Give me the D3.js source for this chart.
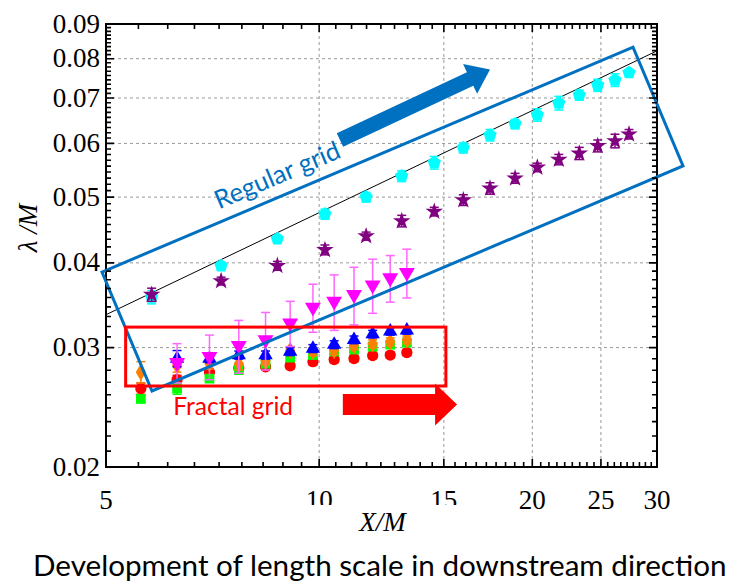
<!DOCTYPE html>
<html>
<meta charset="utf-8">
<title>Length scale development</title>
<style>
    body { margin: 0; background: #fff; }
    .lbl { font-family: "Liberation Serif", "Times New Roman", serif; font-size: 27px; fill: #000; }
    .grid line { stroke: #999; stroke-width: 1px; stroke-dasharray: 3, 3; }
    .title { font-family: "Liberation Serif", "Times New Roman", serif; font-style: italic; font-size: 27px; }
    .note { font-family: Lato, "Noto Sans", sans-serif; }
</style>
<script src="https://d3js.org/d3.v7.min.js" charset="utf-8"></script>
<body>
<script>
    // ---- data ----
    // regular grid (two series share the same X/M stations)
    const regX = [5.8, 7.27, 8.73, 10.19, 11.65, 13.08, 14.54, 15.98, 17.43, 18.91, 20.33, 21.8, 23.3, 24.74, 26.17, 27.39]
    const cyanY = [0.0356, 0.0396, 0.0434, 0.0472, 0.0500, 0.0537, 0.0562, 0.0591, 0.0617, 0.0641, 0.0661, 0.0688, 0.0707, 0.0731, 0.0744, 0.0763]
    const cyanErr = [0.0008, 0.0005, 0.0005, 0.0008, 0.0008, 0.0010, 0.0012, 0.0010, 0.0012, 0.0010, 0.0014, 0.0016, 0.0012, 0.0015, 0.0016, 0.0008]
    const purpleY = [0.0359, 0.0376, 0.0396, 0.0418, 0.0438, 0.0461, 0.0476, 0.0495, 0.0515, 0.0533, 0.0553, 0.0568, 0.0580, 0.0595, 0.0605, 0.0619]
    const purpleErr = [0.0008, 0.0005, 0.0006, 0.0007, 0.0006, 0.0009, 0.0007, 0.0009, 0.0010, 0.0009, 0.0008, 0.0010, 0.0012, 0.0012, 0.0014, 0.0010]

    // fractal grids
    const fracX = [5.6, 6.3, 7.0, 7.7, 8.4, 9.1, 9.8, 10.5, 11.2, 11.9, 12.6, 13.3]
    const redY = [0.0261, 0.0269, 0.0276, 0.0280, 0.0281, 0.0282, 0.0286, 0.0288, 0.0289, 0.0292, 0.02925, 0.0295]
    const redErr = [0.0005, 0.0004, 0.0003, 0.0003, 0.0003, 0.0003, 0.0003, 0.0003, 0.0003, 0.0003, 0.0003, 0.0003]
    const greenY = [0.0252, 0.0261, 0.0270, 0.0278, 0.0284, 0.0290, 0.02925, 0.0296, 0.0298, 0.0301, 0.0303, 0.0305]
    const greenErr = [0.0003, 0.0005, 0.0003, 0.0004, 0.0003, 0.0003, 0.0003, 0.0003, 0.0003, 0.0003, 0.0003, 0.0003]
    const orangeY = [0.0276, 0.0282, 0.0284, 0.0284, 0.0287, 0.0297, 0.0296, 0.0297, 0.0302, 0.0304, 0.0306, 0.0308]
    const orangeErr = [0.0010, 0.0006, 0.0005, 0.0006, 0.0004, 0.0004, 0.0004, 0.0004, 0.0004, 0.0004, 0.0004, 0.0004]
    const blueY = [null, 0.0289, 0.0289, 0.02925, 0.02925, 0.0296, 0.0299, 0.0303, 0.0308, 0.0314, 0.0317, 0.0318]
    const blueErr = [null, 0.0008, 0.0004, 0.0004, 0.0004, 0.0004, 0.0004, 0.0004, 0.0004, 0.0004, 0.0004, 0.0004]
    const magentaY = [null, 0.0285, 0.0291, 0.0302, 0.0308, 0.0326, 0.0344, 0.0351, 0.0359, 0.0371, 0.0380, 0.0387]
    const magentaErr = [null, 0.0019, 0.0022, 0.0027, 0.0030, 0.0025, 0.0028, 0.0033, 0.0035, 0.0034, 0.0030, 0.0032]

    // power-law guide line  lambda/M = c * (X/M)^p
    const fitC = 0.015
    const fitP = 0.5

    // axes
    const xDomain = [5, 30]
    const yDomain = [0.02, 0.09]
    const xTicks = [5, 10, 15, 20, 25, 30]
    const yTicks = [0.02, 0.03, 0.04, 0.05, 0.06, 0.07, 0.08, 0.09]
    const xGrid = [10, 15, 20, 25]
    const yGrid = [0.03, 0.04, 0.05, 0.06, 0.07, 0.08]

    const caption = "Development of length scale in downstream direction"

    // ---- layout ----
    const W = 740, H = 583
    const m = { left: 106, top: 24, right: 657, bottom: 467 }

    const svg = d3.select("body").append("svg").attr("width", W).attr("height", H)

    const x = d3.scaleLog().domain(xDomain).range([m.left, m.right])
    const y = d3.scaleLog().domain(yDomain).range([m.bottom, m.top])

    // minor ticks: 8 per major interval (that is how the original axis was drawn)
    function minors(majors) {
        let out = []
        for (let i = 0; i < majors.length - 1; i++) {
            let a = majors[i], b = majors[i + 1]
            for (let k = 1; k < 9; k++) out.push(a + (b - a) * k / 9)
        }
        return out
    }

    // grid
    svg.append("g").attr("class", "grid")
        .selectAll("line").data(xGrid).enter().append("line")
        .attr("x1", d => x(d)).attr("x2", d => x(d))
        .attr("y1", m.top).attr("y2", m.bottom)
    svg.append("g").attr("class", "grid")
        .selectAll("line").data(yGrid).enter().append("line")
        .attr("x1", m.left).attr("x2", m.right)
        .attr("y1", d => y(d)).attr("y2", d => y(d))

    // tick labels
    svg.append("g").selectAll("text").data(xTicks).enter().append("text")
        .attr("class", "lbl").attr("text-anchor", "middle")
        .attr("x", d => x(d)).attr("y", m.bottom + 42)
        .text(d => d)
    svg.append("g").selectAll("text").data(yTicks).enter().append("text")
        .attr("class", "lbl").attr("text-anchor", "end")
        .attr("x", m.left - 6).attr("y", d => y(d)).attr("dy", "0.32em")
        .text(d => d3.format(".2f")(d))

    // the original export clipped the lower edge of the "10" and "15" labels
    svg.append("rect")
        .attr("x", x(10) - 20).attr("width", x(15) - x(10) + 40)
        .attr("y", m.bottom + 38).attr("height", 6)
        .attr("fill", "#fff")

    // frame
    svg.append("rect")
        .attr("x", m.left).attr("y", m.top)
        .attr("width", m.right - m.left).attr("height", m.bottom - m.top)
        .attr("fill", "none").attr("stroke", "#000").attr("stroke-width", 2)

    // axis titles
    svg.append("text").attr("class", "title")
        .attr("transform", `translate(37,228) rotate(-90)`)
        .attr("text-anchor", "middle")
        .text("\u03bb /M")
    svg.append("text").attr("class", "title")
        .attr("x", (m.left + m.right) / 2 + 1).attr("y", 531)
        .attr("text-anchor", "middle")
        .text("X/M")

    // guide line
    let line = d3.line().x(d => x(d)).y(d => y(fitC * Math.pow(d, fitP)))
    svg.append("path")
        .datum(xDomain)
        .attr("d", line)
        .attr("fill", "none").attr("stroke", "#000").attr("stroke-width", 1)

    // ---- markers ----
    function pentagon(r) {
        let p = d3.path()
        for (let i = 0; i < 5; i++) {
            let a = -Math.PI / 2 + i * 2 * Math.PI / 5
            if (i == 0) p.moveTo(r * Math.cos(a), r * Math.sin(a))
            else p.lineTo(r * Math.cos(a), r * Math.sin(a))
        }
        p.closePath()
        return p.toString()
    }

    function series(xs, ys, errs, opt) {
        let pts = xs.map((d, i) => ({ x: d, y: ys[i], e: errs[i] })).filter(d => d.y != null)
        let g = svg.append("g")
        // error bars
        let eb = g.selectAll(".eb").data(pts).enter().append("g")
            .attr("stroke", opt.err || opt.color).attr("stroke-width", 1.5)
        eb.append("line")
            .attr("x1", d => x(d.x)).attr("x2", d => x(d.x))
            .attr("y1", d => y(d.y - d.e)).attr("y2", d => y(d.y + d.e))
        eb.append("line")
            .attr("x1", d => x(d.x) - 4.5).attr("x2", d => x(d.x) + 4.5)
            .attr("y1", d => y(d.y + d.e)).attr("y2", d => y(d.y + d.e))
        eb.append("line")
            .attr("x1", d => x(d.x) - 4.5).attr("x2", d => x(d.x) + 4.5)
            .attr("y1", d => y(d.y - d.e)).attr("y2", d => y(d.y - d.e))
        // symbols
        g.selectAll(".pt").data(pts).enter().append("path")
            .attr("d", opt.path)
            .attr("transform", d => `translate(${x(d.x)},${y(d.y)})` + (opt.rot ? ` rotate(${opt.rot})` : ""))
            .attr("fill", opt.color)
    }

    series(regX, cyanY, cyanErr, { color: "#00ffff", path: pentagon(7) })
    series(regX, purpleY, purpleErr, { color: "#800080", path: d3.symbol(d3.symbolStar, 95)() })
    series(fracX, redY, redErr, { color: "#ff0000", path: d3.symbol(d3.symbolCircle, 100)() })
    series(fracX, greenY, greenErr, { color: "#00ff00", path: d3.symbol(d3.symbolSquare, 95)() })
    series(fracX, orangeY, orangeErr, { color: "#ff8000", path: d3.symbol(d3.symbolDiamond, 90)() })
    series(fracX, blueY, blueErr, { color: "#0000ff", path: d3.symbol(d3.symbolTriangle, 90)() })
    series(fracX, magentaY, magentaErr, { color: "#ff00ff", err: "#ff66ff", path: d3.symbol(d3.symbolTriangle, 110)(), rot: 180 })

    // ---- annotations (anchored in data space) ----
    const blueNote = "#0070c0", redNote = "#ff0000"
    let P = d => [x(d[0]), y(d[1])]

    // tilted box round the regular-grid data
    let box = [[4.935, 0.03877], [27.75, 0.0832], [32.65, 0.0556], [5.807, 0.02589]]
    svg.append("path")
        .attr("d", "M" + box.map(P).join("L") + "Z")
        .attr("fill", "none").attr("stroke", blueNote).attr("stroke-width", 3)

    // box round the fractal-grid data
    let fb = [[5.33, 0.03216], [15.1, 0.02633]]
    svg.append("rect")
        .attr("x", x(fb[0][0])).attr("y", y(fb[0][1]))
        .attr("width", x(fb[1][0]) - x(fb[0][0])).attr("height", y(fb[1][1]) - y(fb[0][1]))
        .attr("fill", "none").attr("stroke", redNote).attr("stroke-width", 3)

    function arrow(from, to, body, head, headLen, color) {
        let a = P(from), b = P(to)
        let len = Math.hypot(b[0] - a[0], b[1] - a[1])
        let ang = Math.atan2(b[1] - a[1], b[0] - a[0]) * 180 / Math.PI
        let s = len - headLen
        let pts = [[0, -body / 2], [s, -body / 2], [s, -head / 2], [len, 0], [s, head / 2], [s, body / 2], [0, body / 2]]
        svg.append("path")
            .attr("d", "M" + pts.join("L") + "Z")
            .attr("transform", `translate(${a}) rotate(${ang})`)
            .attr("fill", color)
    }
    arrow([10.70, 0.0607], [17.43, 0.0771], 15, 33, 22, blueNote)
    arrow([10.8, 0.02473], [15.66, 0.02473], 21, 42, 22, redNote)

    // text helper: scale font so the string fills a given width
    function fitText(sel, width, size) {
        sel.attr("font-size", size)
        let w = sel.node().getComputedTextLength()
        sel.attr("font-size", size * width / w)
        return sel
    }

    let rg = svg.append("text").attr("class", "note")
        .attr("fill", blueNote).attr("text-anchor", "middle")
        .attr("transform", `translate(${P([8.72, 0.0539])}) rotate(-23)`)
        .attr("dy", "0.35em")
        .text("Regular grid")
    fitText(rg, 134, 22)

    let fg = svg.append("text").attr("class", "note")
        .attr("fill", redNote)
        .attr("x", x(6.22)).attr("y", y(0.02386))
        .text("Fractal grid")
    fitText(fg, 120, 24)

    let cap = svg.append("text").attr("class", "note")
        .attr("x", 33).attr("y", 576).attr("fill", "#000")
        .text(caption)
    fitText(cap, 694, 28)

    // inward ticks on all four sides, drawn last so nothing sits on them
    let xt = xTicks.map(v => [v, 8]).concat(minors(xTicks).map(v => [v, 5]))
    let yt = yTicks.map(v => [v, 8]).concat(minors(yTicks).map(v => [v, 5]))
    let tickPath = ""
    xt.forEach(([v, len]) => {
        let px = x(v)
        tickPath += `M${px},${m.bottom}V${m.bottom - len}M${px},${m.top}V${m.top + len}`
    })
    yt.forEach(([v, len]) => {
        let py = y(v)
        tickPath += `M${m.left},${py}H${m.left + len}M${m.right},${py}H${m.right - len}`
    })
    svg.append("path")
        .attr("d", tickPath)
        .attr("fill", "none").attr("stroke", "#000").attr("stroke-width", 1.6)
</script>
</body>
</html>
